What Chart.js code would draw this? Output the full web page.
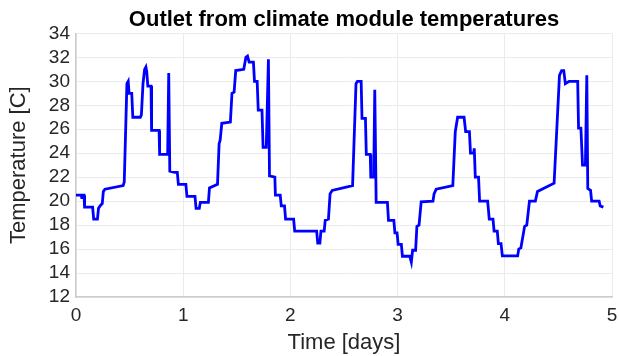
<!DOCTYPE html>
<html>
<head>
<meta charset="utf-8">
<script src="https://cdn.jsdelivr.net/npm/chart.js@4/dist/chart.umd.min.js"></script>
<style>
  html, body { margin: 0; padding: 0; background: #ffffff; }
  #c { display: block; }
</style>
</head>
<body>
<canvas id="c" width="619" height="356"></canvas>
<script>
// Time in days
const days = [
  0.00, 0.05, 0.055, 0.06, 0.075, 0.08, 0.155, 0.165, 0.20, 0.21, 0.225, 0.245, 0.255, 0.27,
  0.44, 0.45, 0.475, 0.487, 0.495, 0.52, 0.53, 0.60, 0.61, 0.625, 0.64, 0.652, 0.66, 0.67,
  0.70, 0.705, 0.775, 0.78, 0.855, 0.865, 0.875, 0.92, 0.945, 0.955, 1.025, 1.035, 1.11,
  1.12, 1.15, 1.16, 1.235, 1.245, 1.32, 1.335, 1.345, 1.36, 1.44, 1.455, 1.475, 1.49, 1.565,
  1.585, 1.60, 1.615, 1.655, 1.665, 1.69, 1.70, 1.735, 1.745, 1.775, 1.795, 1.805, 1.855,
  1.86, 1.905, 1.915, 1.945, 1.955, 2.03, 2.04, 2.245, 2.255, 2.275, 2.285, 2.315, 2.325,
  2.355, 2.37, 2.39, 2.58, 2.612, 2.625, 2.66, 2.668, 2.70, 2.708, 2.745, 2.75, 2.777,
  2.787, 2.80, 2.905, 2.915, 2.965, 2.975, 2.995, 3.005, 3.035, 3.045, 3.113, 3.128, 3.14,
  3.168, 3.18, 3.20, 3.22, 3.33, 3.34, 3.36, 3.515, 3.538, 3.56, 3.62, 3.635, 3.67, 3.68,
  3.71, 3.715, 3.725, 3.755, 3.765, 3.84, 3.855, 3.89, 3.90, 3.93, 3.94, 3.965, 3.977,
  4.12, 4.13, 4.15, 4.185, 4.205, 4.23, 4.285, 4.305, 4.46, 4.51, 4.53, 4.55, 4.565, 4.60,
  4.68, 4.688, 4.71, 4.725, 4.752, 4.765, 4.774, 4.80, 4.81, 4.88, 4.89, 4.92
];
// Outlet temperature [C]
const temps = [
  20.5, 20.5, 20.2, 20.5, 20.5, 19.5, 19.5, 18.5, 18.5, 19.4, 19.6, 19.8, 20.8, 21.0,
  21.3, 21.6, 29.8, 30.0, 29.0, 29.0, 27.0, 27.0, 27.2, 29.8, 31.0, 31.2, 30.8, 29.6,
  29.6, 25.9, 25.9, 23.9, 23.9, 30.7, 22.5, 22.4, 22.4, 21.4, 21.4, 20.4, 20.4,
  19.4, 19.4, 19.9, 19.9, 21.1, 21.4, 24.8, 25.1, 26.5, 26.6, 29.0, 29.1, 30.9, 31.0,
  32.0, 32.1, 31.6, 31.6, 30.0, 30.0, 27.6, 27.6, 24.5, 24.5, 31.85, 22.1, 22.0,
  20.5, 20.5, 19.6, 19.6, 18.5, 18.5, 17.5, 17.5, 16.5, 16.5, 17.5, 17.5, 18.4,
  18.5, 20.6, 20.9, 21.3, 29.8, 30.0, 30.0, 26.9, 26.9, 23.9, 23.9, 22.0, 22.0,
  29.3, 19.9, 19.9, 18.4, 18.4, 17.35, 17.35, 16.4, 16.4, 15.4, 15.4, 14.9, 15.9,
  15.9, 17.9, 18.0, 19.95, 20.0, 20.6, 21.0, 21.3, 25.8, 27.0, 27.0, 25.8, 25.8, 24.0,
  24.0, 24.4, 22.0, 22.0, 20.0, 20.0, 18.5, 18.5, 17.5, 17.5, 16.45, 16.45, 15.43,
  15.43, 16.0, 16.1, 17.9, 18.0, 20.0, 20.0, 20.8, 21.5, 30.5, 30.9, 30.9, 29.8, 30.0,
  30.0, 26.1, 26.1, 23.0, 23.0, 30.5, 21.05, 20.9, 20.0, 20.0, 19.6, 19.5
];
const xTicks = [0, 1, 2, 3, 4, 5];
const yTicks = [12, 14, 16, 18, 20, 22, 24, 26, 28, 30, 32, 34];

const FONT = "'Liberation Sans', Arial, Helvetica, sans-serif";
const points = days.map((d, i) => ({ x: d, y: temps[i] }));

new Chart(document.getElementById('c'), {
  type: 'line',
  data: {
    datasets: [{
      data: points,
      borderColor: '#0000ff',
      borderWidth: 2.8,
      pointRadius: 0,
      tension: 0,
      fill: false
    }]
  },
  options: {
    responsive: false,
    animation: false,
    devicePixelRatio: 1,
    layout: { padding: { left: 0, right: 7, top: 0, bottom: 0 } },
    plugins: {
      legend: { display: false },
      tooltip: { enabled: false },
      title: {
        display: true,
        fullSize: false,
        text: 'Outlet from climate module temperatures',
        color: '#000000',
        font: { family: FONT, size: 22, weight: 'bold' },
        padding: { top: 7, bottom: 0 }
      }
    },
    scales: {
      x: {
        type: 'linear',
        min: xTicks[0],
        max: xTicks[xTicks.length - 1],
        afterBuildTicks: s => { s.ticks = xTicks.map(v => ({ value: v })); },
        afterFit: s => { s.height = 59; s.paddingRight = 0; s.paddingLeft = 0; },
        ticks: {
          color: '#262626',
          font: { family: FONT, size: 19 },
          padding: 7,
          maxRotation: 0,
          autoSkip: false
        },
        grid: { color: '#ebebeb', lineWidth: 1, drawTicks: false },
        border: { color: '#cccccc', width: 1.5 },
        title: {
          display: true,
          text: 'Time [days]',
          color: '#262626',
          font: { family: FONT, size: 22 },
          padding: { top: 3, bottom: 0 }
        }
      },
      y: {
        type: 'linear',
        min: yTicks[0],
        max: yTicks[yTicks.length - 1],
        afterBuildTicks: s => { s.ticks = yTicks.map(v => ({ value: v })); },
        afterFit: s => { s.width = 76; },
        ticks: {
          color: '#262626',
          font: { family: FONT, size: 19 },
          padding: 6,
          autoSkip: false
        },
        grid: { color: '#ebebeb', lineWidth: 1, drawTicks: false },
        border: { color: '#cccccc', width: 1.5 },
        title: {
          display: true,
          text: 'Temperature [C]',
          color: '#262626',
          font: { family: FONT, size: 22 },
          padding: { top: 6, bottom: 0 }
        }
      }
    }
  }
});
</script>
</body>
</html>
